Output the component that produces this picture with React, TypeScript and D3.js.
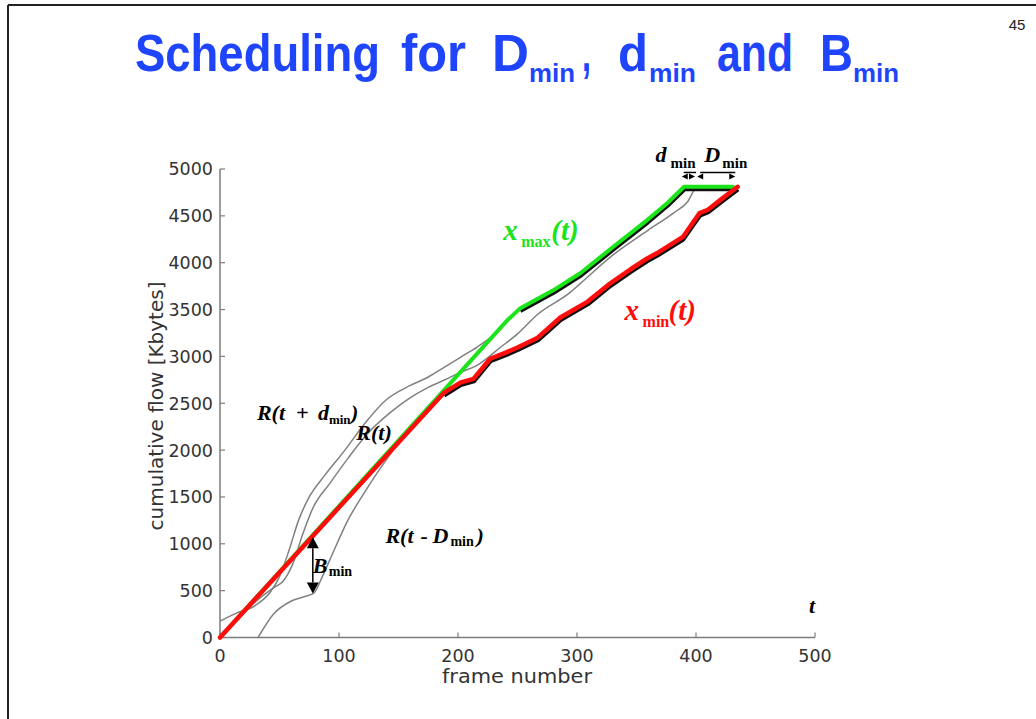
import React, { useLayoutEffect, useRef, useState } from 'react';
import * as d3 from 'd3';

type Pt = [number, number];

// ---------- data (frame number, cumulative flow in Kbytes) ----------
const xTickValues = [0, 100, 200, 300, 400, 500];
const yTickValues = [0, 500, 1000, 1500, 2000, 2500, 3000, 3500, 4000, 4500, 5000];

// x_max(t) (green)
const xMaxData: Pt[] = [
  [0, 0], [241, 3380], [252, 3510], [280, 3705], [303, 3890], [330, 4165],
  [359, 4455], [376, 4637], [390, 4810], [431, 4810],
];

// x_min(t) (red)
const xMinData: Pt[] = [
  [0, 0], [188, 2610], [202, 2720], [213, 2760], [227, 2975], [240, 3040],
  [250, 3095], [267, 3200], [286, 3415], [309, 3585], [328, 3780], [345, 3930],
  [359, 4045], [367, 4100], [389, 4275], [403, 4530], [410, 4565], [420, 4665],
  [435, 4810],
];

// R(t + d_min) (upper grey)
const rPlusDmin: Pt[] = [
  [0, 175], [13, 255], [30, 345], [42, 480], [50, 650], [58, 930], [66, 1250],
  [75, 1500], [88, 1730], [105, 2000], [122, 2290], [140, 2540], [160, 2690],
  [175, 2780], [188, 2880], [202, 2990], [216, 3100], [230, 3230], [241, 3380],
];

// R(t) (middle grey)
const rOfT: Pt[] = [
  [0, 0], [15, 200], [30, 385], [45, 530], [53, 600], [61, 780], [70, 1120],
  [78, 1380], [92, 1640], [108, 1920], [125, 2190], [143, 2400], [160, 2560],
  [175, 2670], [188, 2745], [202, 2830], [216, 2905], [236, 3100], [250, 3240],
  [267, 3450], [294, 3680], [303, 3780], [330, 4080], [359, 4340], [381, 4530],
  [393, 4650], [400, 4790], [431, 4790],
];

// R(t - D_min) (lower grey)
const rMinusDmin: Pt[] = [
  [32, 0], [45, 250], [60, 390], [72, 440], [79, 475], [86, 650], [92, 820],
  [107, 1240], [124, 1600], [141, 1920], [158, 2210], [174, 2450], [188, 2610],
];

// where the colored curves run on the black bounds
const greenShadowFrom = 250;
const redShadowFrom = 188;

// annotations (data coordinates)
const bMinArrow = { frame: 78, top: 1070, bottom: 470 };
const dMinArrow = { from: 388, to: 400 };
const DMinArrow = { from: 401, to: 433 };
const arrowHeadValue = 4920;
const arrowShaftValue = 4963;

const rPlusLabel: Pt = [31, 2310];
const rLabel: Pt = [112, 2140];
const rMinusLabel: Pt = [139, 1010];
const bMinLabel: Pt = [78, 690];
const xMaxLabel: Pt = [238, 4240];
const xMinLabel: Pt = [340, 3390];
const dMinLabel: Pt = [366, 5075];
const DMinLabel: Pt = [407, 5075];
const tLabel: Pt = [495, 260];

const titleParts = [
  { t: 'Scheduling', x: 135, w: 245, sub: false },
  { t: 'for', x: 401, w: 65, sub: false },
  { t: 'D', x: 492, w: 37, sub: false },
  { t: 'min', x: 529, w: 46, sub: true },
  { t: ',', x: 582, w: 9, sub: false },
  { t: 'd', x: 618, w: 30, sub: false },
  { t: 'min', x: 649, w: 47, sub: true },
  { t: 'and', x: 717, w: 76, sub: false },
  { t: 'B', x: 820, w: 33, sub: false },
  { t: 'min', x: 853, w: 46, sub: true },
];

type Part = { t: string; dx: number; sub?: boolean };

const SERIF = "'Liberation Serif', 'Times New Roman', serif";
const SANS = "'DejaVu Sans', sans-serif";
const ARIAL = "'Liberation Sans', Arial, sans-serif";

function FitText({ x, y, width, children, ...rest }: any) {
  const ref = useRef<SVGTextElement>(null);
  const [k, setK] = useState(1);
  useLayoutEffect(() => {
    if (ref.current) {
      const n = ref.current.getComputedTextLength();
      if (n > 0) setK(width / n);
    }
  }, [width, children]);
  return (
    <text ref={ref} transform={`translate(${x},${y}) scale(${k},1)`} {...rest}>
      {children}
    </text>
  );
}

function MathText({ px, py, parts, fill, size, subSize, subDrop }: {
  px: number; py: number; parts: Part[]; fill: string; size: number; subSize: number; subDrop: number;
}) {
  return (
    <g>
      {parts.map((p, i) => (
        <text
          key={i}
          x={px + p.dx}
          y={py + (p.sub ? subDrop : 0)}
          fontFamily={SERIF}
          fontWeight="bold"
          fontStyle={p.sub ? 'normal' : 'italic'}
          fontSize={p.sub ? subSize : size}
          fill={fill}
        >
          {p.t}
        </text>
      ))}
    </g>
  );
}

export default function App() {
  const W = 1036;
  const H = 719;
  const x = d3.scaleLinear().domain([0, 500]).range([220, 815]);
  const y = d3.scaleLinear().domain([0, 5000]).range([637.5, 169]);

  const smooth = d3.line<Pt>().x(d => x(d[0])).y(d => y(d[1])).curve(d3.curveMonotoneX);
  const straight = d3.line<Pt>().x(d => x(d[0])).y(d => y(d[1]));

  const greenShadow = xMaxData.filter(d => d[0] >= greenShadowFrom);
  const redShadow = xMinData.filter(d => d[0] >= redShadowFrom);

  const axisColor = '#7d7d7d';
  const greyCurve = '#808080';
  const green = '#1be41b';
  const red = '#ff0c0c';

  const bx = x(bMinArrow.frame);
  const bTop = y(bMinArrow.top);
  const bBot = y(bMinArrow.bottom);
  const headL = 11;
  const headW = 6;

  const ah = y(arrowHeadValue);
  const as = y(arrowShaftValue);
  const leftHead = (tip: number) => `M${tip},${ah} L${tip + 6},${ah - 3} L${tip + 6},${ah + 3} Z`;
  const rightHead = (tip: number) => `M${tip},${ah} L${tip - 6},${ah - 3} L${tip - 6},${ah + 3} Z`;

  return (
    <svg
      width={W}
      height={H}
      style={{ position: 'absolute', left: 0, top: 0, background: '#fff' }}
      xmlns="http://www.w3.org/2000/svg"
    >
      <rect x={0} y={0} width={W} height={H} fill="#fff" />
      {/* slide frame */}
      <line x1={8} y1={5} x2={W} y2={5} stroke="#222" strokeWidth={2} />
      <line x1={8} y1={5} x2={8} y2={H} stroke="#222" strokeWidth={2} />
      <text x={1017} y={30} fontFamily={ARIAL} fontSize={15} fill="#222" textAnchor="middle">45</text>

      {/* title */}
      {titleParts.map((p, i) => (
        <FitText
          key={i}
          x={p.x}
          y={p.sub ? 82 : 71}
          width={p.w}
          fontFamily={ARIAL}
          fontWeight="bold"
          fontSize={p.sub ? 26 : 51}
          fill="#1f45fc"
        >
          {p.t}
        </FitText>
      ))}

      {/* axes */}
      <line x1={x(0)} y1={y(0)} x2={x(500)} y2={y(0)} stroke={axisColor} strokeWidth={1.5} />
      <line x1={x(0)} y1={y(0)} x2={x(0)} y2={y(5000)} stroke={axisColor} strokeWidth={1.5} />
      {xTickValues.map(v => (
        <g key={'xt' + v}>
          <line x1={x(v)} y1={y(0)} x2={x(v)} y2={y(0) - 5} stroke={axisColor} strokeWidth={1.2} />
          <text x={x(v)} y={662} textAnchor="middle" fontFamily={SANS} fontSize={17.5} fill="#333">{v}</text>
        </g>
      ))}
      {yTickValues.map(v => (
        <g key={'yt' + v}>
          <line x1={x(0)} y1={y(v)} x2={x(0) + 5} y2={y(v)} stroke={axisColor} strokeWidth={1.2} />
          <text x={213} y={y(v) + 6.4} textAnchor="end" fontFamily={SANS} fontSize={17.5} fill="#333">{v}</text>
        </g>
      ))}
      <FitText x={442} y={683} width={150} fontFamily={SANS} fontSize={20} fill="#333">frame number</FitText>
      <text
        transform="translate(163,406) rotate(-90)"
        textAnchor="middle"
        fontFamily={SANS}
        fontSize={20}
        fill="#333"
      >
        cumulative flow [Kbytes]
      </text>

      {/* grey curves */}
      <path d={smooth(rPlusDmin) || ''} fill="none" stroke={greyCurve} strokeWidth={1.5} />
      <path d={smooth(rOfT) || ''} fill="none" stroke={greyCurve} strokeWidth={1.5} />
      <path d={smooth(rMinusDmin) || ''} fill="none" stroke={greyCurve} strokeWidth={1.5} />

      {/* black bounds under the colored curves */}
      <path d={straight(greenShadow) || ''} fill="none" stroke="#111" strokeWidth={4} transform="translate(0.5,2.5)" strokeLinejoin="round" />
      <path d={straight(redShadow) || ''} fill="none" stroke="#111" strokeWidth={4} transform="translate(0.5,2.5)" strokeLinejoin="round" />

      {/* x_max and x_min */}
      <path d={straight(xMaxData) || ''} fill="none" stroke={green} strokeWidth={4} strokeLinejoin="round" strokeLinecap="round" />
      <path d={straight(xMinData) || ''} fill="none" stroke={red} strokeWidth={4.5} strokeLinejoin="round" strokeLinecap="round" />

      {/* B_min arrow */}
      <line x1={bx} y1={bTop + headL} x2={bx} y2={bBot - headL} stroke="#000" strokeWidth={1.5} />
      <path d={`M${bx},${bTop} L${bx - headW},${bTop + headL} L${bx + headW},${bTop + headL} Z`} fill="#000" />
      <path d={`M${bx},${bBot} L${bx - headW},${bBot - headL} L${bx + headW},${bBot - headL} Z`} fill="#000" />

      {/* d_min and D_min arrows */}
      <line x1={x(dMinArrow.from) + 2} y1={as} x2={x(dMinArrow.to)} y2={as} stroke="#000" strokeWidth={1.5} />
      <path d={leftHead(x(dMinArrow.from))} fill="#000" />
      <path d={rightHead(x(dMinArrow.to) - 1)} fill="#000" />
      <line x1={x(DMinArrow.from) + 3} y1={as} x2={x(DMinArrow.to)} y2={as} stroke="#000" strokeWidth={1.5} />
      <path d={leftHead(x(DMinArrow.from))} fill="#000" />
      <path d={rightHead(x(DMinArrow.to))} fill="#000" />

      {/* labels */}
      <MathText px={x(rPlusLabel[0])} py={y(rPlusLabel[1]) - 1} fill="#000" size={22} subSize={13} subDrop={4}
        parts={[{ t: 'R(t', dx: 0 }, { t: '+', dx: 39 }, { t: 'd', dx: 61 }, { t: 'min', dx: 72, sub: true }, { t: ')', dx: 94 }]} />
      <MathText px={x(rLabel[0]) + 3} py={y(rLabel[1]) + 3} fill="#000" size={22} subSize={14} subDrop={4}
        parts={[{ t: 'R(t)', dx: 0 }]} />
      <MathText px={x(rMinusLabel[0])} py={y(rMinusLabel[1])} fill="#000" size={22} subSize={14} subDrop={3}
        parts={[{ t: 'R(t', dx: 0 }, { t: '-', dx: 35 }, { t: 'D', dx: 47 }, { t: 'min', dx: 65, sub: true }, { t: ')', dx: 91 }]} />
      <MathText px={x(bMinLabel[0])} py={y(bMinLabel[1])} fill="#000" size={22} subSize={14} subDrop={3}
        parts={[{ t: 'B', dx: 0 }, { t: 'min', dx: 16, sub: true }]} />
      <MathText px={x(xMaxLabel[0])} py={y(xMaxLabel[1])} fill={green} size={29} subSize={16} subDrop={7}
        parts={[{ t: 'x', dx: 0 }, { t: 'max', dx: 18, sub: true }, { t: '(t)', dx: 48 }]} />
      <MathText px={x(xMinLabel[0])} py={y(xMinLabel[1])} fill={red} size={29} subSize={16} subDrop={7}
        parts={[{ t: 'x', dx: 0 }, { t: 'min', dx: 18, sub: true }, { t: '(t)', dx: 44 }]} />
      <MathText px={x(dMinLabel[0])} py={y(dMinLabel[1])} fill="#000" size={22} subSize={15} subDrop={6}
        parts={[{ t: 'd', dx: 0 }, { t: 'min', dx: 15, sub: true }]} />
      <MathText px={x(DMinLabel[0])} py={y(DMinLabel[1])} fill="#000" size={22} subSize={15} subDrop={6}
        parts={[{ t: 'D', dx: 0 }, { t: 'min', dx: 18, sub: true }]} />
      <MathText px={x(tLabel[0])} py={y(tLabel[1])} fill="#000" size={22} subSize={14} subDrop={4}
        parts={[{ t: 't', dx: 0 }]} />
    </svg>
  );
}
